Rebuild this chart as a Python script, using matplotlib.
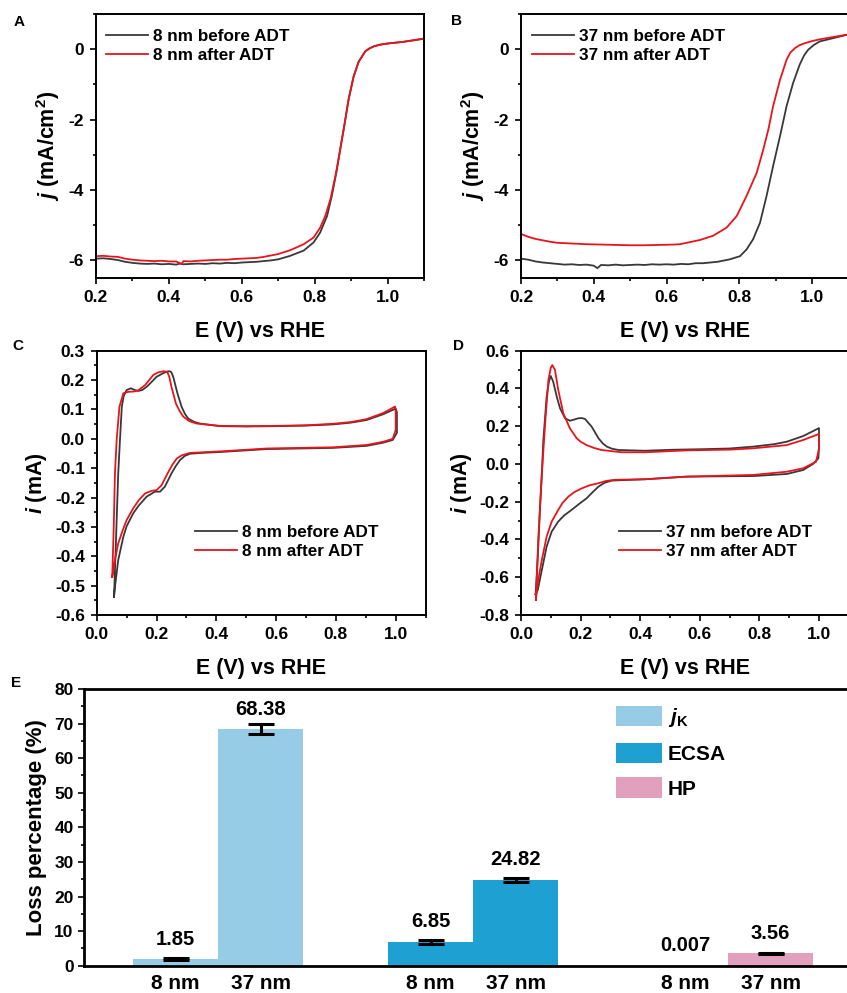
import matplotlib
matplotlib.use("Agg")
import matplotlib.pyplot as plt
from matplotlib.ticker import MultipleLocator
import numpy as np

plt.rcParams['font.family'] = ['Liberation Sans', 'DejaVu Sans']
plt.rcParams['font.weight'] = 'bold'
plt.rcParams['axes.labelweight'] = 'bold'
plt.rcParams['axes.unicode_minus'] = False
plt.rcParams['mathtext.fontset'] = 'custom'
plt.rcParams['mathtext.rm'] = 'Liberation Sans:bold'
plt.rcParams['mathtext.it'] = 'Liberation Sans:bold:italic'
plt.rcParams['mathtext.bf'] = 'Liberation Sans:bold'

BLACK = '#383838'
RED = '#e8141c'

# ---- panel A: LSV, 8 nm ----
lsv8_before_E = [0.20, 0.22, 0.24, 0.26, 0.28, 0.30, 0.32, 0.34, 0.36, 0.38, 0.40, 0.42, 0.43, 0.44,
                 0.46, 0.48, 0.50, 0.52, 0.54, 0.56, 0.58, 0.60, 0.62, 0.64, 0.66, 0.68, 0.70, 0.733,
                 0.77, 0.797, 0.815, 0.834, 0.847, 0.861, 0.87, 0.881, 0.893, 0.907, 0.921, 0.939,
                 0.95, 0.962, 0.98, 0.999, 1.044, 1.10]
lsv8_before_j = [-5.95, -5.94, -5.96, -5.99, -6.04, -6.07, -6.09, -6.10, -6.09, -6.11, -6.10, -6.12,
                 -6.09, -6.11, -6.10, -6.09, -6.10, -6.08, -6.09, -6.07, -6.08, -6.06, -6.05, -6.04,
                 -6.02, -6.00, -5.97, -5.87, -5.72, -5.49, -5.21, -4.74, -4.17, -3.42, -2.85, -2.19,
                 -1.43, -0.77, -0.35, -0.06, 0.02, 0.08, 0.13, 0.16, 0.21, 0.30]
lsv8_after_E = [0.20, 0.22, 0.24, 0.26, 0.28, 0.30, 0.32, 0.34, 0.36, 0.38, 0.40, 0.42, 0.435, 0.44,
                0.46, 0.48, 0.50, 0.52, 0.54, 0.56, 0.58, 0.60, 0.62, 0.64, 0.66, 0.68, 0.70, 0.733,
                0.77, 0.797, 0.815, 0.829, 0.843, 0.857, 0.87, 0.881, 0.893, 0.907, 0.921, 0.939,
                0.95, 0.962, 0.98, 0.999, 1.044, 1.10]
lsv8_after_j = [-5.88, -5.87, -5.89, -5.90, -5.95, -5.98, -6.00, -6.01, -6.02, -6.01, -6.03, -6.03,
                -6.10, -6.02, -6.03, -6.01, -6.00, -5.99, -5.98, -5.98, -5.96, -5.95, -5.94, -5.93,
                -5.90, -5.86, -5.82, -5.71, -5.54, -5.35, -5.07, -4.74, -4.27, -3.60, -2.85, -2.19,
                -1.43, -0.77, -0.35, -0.06, 0.02, 0.08, 0.13, 0.16, 0.21, 0.30]

# ---- panel B: LSV, 37 nm ----
lsv37_before_E = [0.20, 0.22, 0.24, 0.26, 0.28, 0.30, 0.32, 0.34, 0.36, 0.38, 0.40, 0.41, 0.42, 0.44,
                  0.46, 0.48, 0.50, 0.52, 0.54, 0.56, 0.58, 0.60, 0.62, 0.64, 0.66, 0.68, 0.70, 0.72,
                  0.74, 0.774, 0.802, 0.82, 0.838, 0.857, 0.875, 0.893, 0.912, 0.93, 0.948, 0.966,
                  0.978, 0.989, 1.005, 1.021, 1.10]
lsv37_before_j = [-5.95, -5.98, -6.03, -6.06, -6.08, -6.10, -6.12, -6.11, -6.13, -6.12, -6.15, -6.22,
                  -6.13, -6.14, -6.12, -6.14, -6.13, -6.12, -6.13, -6.11, -6.12, -6.11, -6.12, -6.10,
                  -6.11, -6.08, -6.08, -6.06, -6.04, -5.97, -5.88, -5.69, -5.40, -4.93, -4.17, -3.32,
                  -2.47, -1.62, -0.96, -0.44, -0.18, -0.02, 0.12, 0.22, 0.42]
lsv37_after_E = [0.20, 0.22, 0.24, 0.26, 0.28, 0.30, 0.34, 0.38, 0.42, 0.46, 0.50, 0.54, 0.58, 0.62,
                 0.637, 0.692, 0.728, 0.765, 0.793, 0.82, 0.848, 0.866, 0.88, 0.893, 0.912, 0.93,
                 0.94, 0.953, 0.965, 0.98, 1.0, 1.021, 1.10]
lsv37_after_j = [-5.25, -5.33, -5.39, -5.43, -5.47, -5.50, -5.52, -5.54, -5.55, -5.56, -5.57, -5.57,
                 -5.56, -5.55, -5.54, -5.42, -5.30, -5.07, -4.74, -4.17, -3.51, -2.85, -2.28, -1.62,
                 -0.87, -0.30, -0.10, 0.03, 0.11, 0.17, 0.23, 0.28, 0.42]

# ---- panel C: CV, 8 nm ----
cv8_before_E = [0.058, 0.061, 0.066, 0.072, 0.078, 0.084, 0.09, 0.10, 0.114, 0.128, 0.139, 0.152,
                0.167, 0.185, 0.20, 0.22, 0.235, 0.245, 0.25, 0.256, 0.27, 0.284, 0.295, 0.306,
                0.325, 0.345, 0.412, 0.50, 0.60, 0.70, 0.79, 0.85, 0.903, 0.959, 1.0, 1.004, 1.004,
                0.99, 0.959, 0.903, 0.79, 0.569, 0.412, 0.35, 0.312, 0.295, 0.279, 0.265, 0.25,
                0.228, 0.212, 0.195, 0.167, 0.14, 0.122, 0.1, 0.089, 0.072, 0.061, 0.058]
cv8_before_i = [-0.538, -0.45, -0.30, -0.118, 0.0, 0.109, 0.145, 0.166, 0.172, 0.166, 0.163, 0.166,
                0.177, 0.195, 0.211, 0.222, 0.229, 0.230, 0.226, 0.211, 0.155, 0.109, 0.085, 0.069,
                0.058, 0.052, 0.043, 0.042, 0.043, 0.045, 0.049, 0.055, 0.064, 0.084, 0.103, 0.09,
                0.02, -0.004, -0.013, -0.024, -0.031, -0.035, -0.045, -0.048, -0.051, -0.058, -0.072,
                -0.092, -0.118, -0.163, -0.180, -0.180, -0.197, -0.228, -0.254, -0.298, -0.334,
                -0.413, -0.505, -0.538]
cv8_after_E = [0.052, 0.054, 0.057, 0.061, 0.067, 0.076, 0.089, 0.106, 0.125, 0.139, 0.162, 0.189,
               0.205, 0.223, 0.236, 0.243, 0.25, 0.265, 0.277, 0.29, 0.31, 0.334, 0.412, 0.50, 0.60,
               0.70, 0.79, 0.85, 0.903, 0.959, 0.998, 1.0, 1.0, 0.99, 0.959, 0.903, 0.79, 0.569,
               0.412, 0.312, 0.285, 0.268, 0.254, 0.24, 0.217, 0.20, 0.184, 0.162, 0.14, 0.122,
               0.1, 0.089, 0.072, 0.061, 0.054, 0.052]
cv8_after_i = [-0.47, -0.40, -0.30, -0.118, 0.0, 0.109, 0.155, 0.160, 0.161, 0.165, 0.183, 0.217,
               0.226, 0.230, 0.228, 0.210, 0.177, 0.120, 0.095, 0.075, 0.060, 0.052, 0.044, 0.043,
               0.044, 0.046, 0.051, 0.057, 0.067, 0.088, 0.110, 0.09, 0.03, 0.0, -0.010, -0.021,
               -0.029, -0.033, -0.043, -0.048, -0.056, -0.067, -0.087, -0.112, -0.158, -0.175,
               -0.177, -0.186, -0.21, -0.237, -0.277, -0.306, -0.356, -0.413, -0.459, -0.47]

# ---- panel D: CV, 37 nm ----
cv37_before_E = [0.049, 0.056, 0.064, 0.07, 0.075, 0.086, 0.094, 0.10, 0.108, 0.12, 0.131, 0.148,
                 0.164, 0.178, 0.192, 0.205, 0.215, 0.237, 0.26, 0.275, 0.288, 0.305, 0.327, 0.416,
                 0.50, 0.60, 0.70, 0.78, 0.85, 0.892, 0.947, 1.0, 1.0, 0.998, 0.98, 0.947, 0.892,
                 0.78, 0.556, 0.416, 0.304, 0.28, 0.26, 0.24, 0.22, 0.198, 0.17, 0.145, 0.125, 0.103,
                 0.086, 0.07, 0.056, 0.049]
cv37_before_i = [-0.69, -0.50, -0.226, -0.05, 0.127, 0.356, 0.44, 0.466, 0.436, 0.356, 0.295, 0.242,
                 0.229, 0.235, 0.242, 0.243, 0.238, 0.198, 0.136, 0.108, 0.092, 0.081, 0.074, 0.070,
                 0.075, 0.078, 0.082, 0.092, 0.105, 0.118, 0.148, 0.190, 0.10, 0.03, 0.0, -0.032,
                 -0.053, -0.064, -0.067, -0.081, -0.088, -0.100, -0.120, -0.150, -0.182, -0.208,
                 -0.243, -0.272, -0.305, -0.358, -0.438, -0.561, -0.67, -0.69]
cv37_after_E = [0.05, 0.058, 0.07, 0.081, 0.092, 0.10, 0.105, 0.114, 0.125, 0.142, 0.164, 0.187,
                0.20, 0.22, 0.245, 0.27, 0.338, 0.416, 0.556, 0.70, 0.78, 0.892, 0.947, 1.0, 1.0,
                0.99, 0.947, 0.892, 0.78, 0.556, 0.416, 0.315, 0.285, 0.26, 0.23, 0.204, 0.18,
                0.159, 0.14, 0.125, 0.103, 0.086, 0.07, 0.056, 0.05]
cv37_after_i = [-0.72, -0.40, -0.05, 0.215, 0.445, 0.51, 0.524, 0.498, 0.392, 0.268, 0.189, 0.136,
                0.118, 0.100, 0.085, 0.074, 0.062, 0.062, 0.072, 0.076, 0.083, 0.100, 0.127, 0.159,
                0.08, 0.012, -0.023, -0.041, -0.058, -0.067, -0.081, -0.084, -0.090, -0.102, -0.113,
                -0.129, -0.148, -0.173, -0.205, -0.243, -0.305, -0.385, -0.508, -0.632, -0.72]

# ---- panel E: loss percentage ----
metrics = ['$j_\\mathrm{K}$', 'ECSA', 'HP']
metric_colors = ['#97cce6', '#1fa0d2', '#e0a0be']
sizes = ['8 nm', '37 nm']
loss_8 = [1.85, 6.85, 0.007]
loss_37 = [68.38, 24.82, 3.56]
err_8 = [0.3, 0.5, 0.0]
err_37 = [1.4, 0.6, 0.2]
label_8 = ['1.85', '6.85', '0.007']
label_37 = ['68.38', '24.82', '3.56']

W, H = 847, 993
fig = plt.figure(figsize=(W / 100, H / 100), dpi=100)


def px_axes(left, top, right, bottom):
    return fig.add_axes([left / W, 1 - bottom / H, (right - left) / W, (bottom - top) / H])


def style(ax, lw=1.4):
    for s in ax.spines.values():
        s.set_linewidth(lw)
    ax.tick_params(which='both', direction='out', top=False, right=False, width=1.2,
                   labelsize=12.5, pad=4.5)
    ax.tick_params(which='major', length=4)
    ax.tick_params(which='minor', length=2.2)


def lines_panel(ax, xs, ys, labels, legend_anchor):
    for x, y, c, lab in zip(xs, ys, [BLACK, RED], labels):
        ax.plot(x, y, color=c, lw=1.3, label=lab, solid_joinstyle='round')
    ax.legend(loc='upper left', bbox_to_anchor=legend_anchor, frameon=False, fontsize=12.3,
              handlelength=2.45, handletextpad=0.3, labelspacing=0.25, borderpad=0,
              borderaxespad=0)


xlabel = 'E (V) vs RHE'

# A
axA = px_axes(96, 14, 424, 278)
lines_panel(axA, [lsv8_before_E, lsv8_after_E], [lsv8_before_j, lsv8_after_j],
            ['8 nm before ADT', '8 nm after ADT'], (0.03, 0.945))
axA.set_xlim(0.2, 1.1)
axA.set_ylim(-6.5, 1)
axA.xaxis.set_major_locator(MultipleLocator(0.2))
axA.xaxis.set_minor_locator(MultipleLocator(0.1))
axA.yaxis.set_major_locator(MultipleLocator(2))
axA.yaxis.set_minor_locator(MultipleLocator(1))
axA.set_xlabel(xlabel, fontsize=15.5, labelpad=12)
axA.set_ylabel('$j$ (mA/cm$^2$)', fontsize=15.5, labelpad=5)
style(axA)

# B
axB = px_axes(521, 14, 848.4, 278)
lines_panel(axB, [lsv37_before_E, lsv37_after_E], [lsv37_before_j, lsv37_after_j],
            ['37 nm before ADT', '37 nm after ADT'], (0.035, 0.945))
axB.set_xlim(0.2, 1.1)
axB.set_ylim(-6.5, 1)
axB.xaxis.set_major_locator(MultipleLocator(0.2))
axB.xaxis.set_minor_locator(MultipleLocator(0.1))
axB.yaxis.set_major_locator(MultipleLocator(2))
axB.yaxis.set_minor_locator(MultipleLocator(1))
axB.set_xlabel(xlabel, fontsize=15.5, labelpad=12)
axB.set_ylabel('$j$ (mA/cm$^2$)', fontsize=15.5, labelpad=5)
style(axB)

# C
axC = px_axes(96.7, 350.7, 425.6, 615)
lines_panel(axC, [cv8_before_E, cv8_after_E], [cv8_before_i, cv8_after_i],
            ['8 nm before ADT', '8 nm after ADT'], (0.3, 0.34))
axC.set_xlim(0, 1.1)
axC.set_ylim(-0.6, 0.3)
axC.xaxis.set_major_locator(MultipleLocator(0.2))
axC.xaxis.set_minor_locator(MultipleLocator(0.1))
axC.yaxis.set_major_locator(MultipleLocator(0.1))
axC.yaxis.set_minor_locator(MultipleLocator(0.05))
axC.set_xlabel(xlabel, fontsize=15.5, labelpad=12)
axC.set_ylabel('$i$ (mA)', fontsize=15.5, labelpad=4)
style(axC)

# D
axD = px_axes(521, 350.7, 848.8, 615)
lines_panel(axD, [cv37_before_E, cv37_after_E], [cv37_before_i, cv37_after_i],
            ['37 nm before ADT', '37 nm after ADT'], (0.3, 0.34))
axD.set_xlim(0, 1.1)
axD.set_ylim(-0.8, 0.6)
axD.xaxis.set_major_locator(MultipleLocator(0.2))
axD.xaxis.set_minor_locator(MultipleLocator(0.1))
axD.yaxis.set_major_locator(MultipleLocator(0.2))
axD.yaxis.set_minor_locator(MultipleLocator(0.1))
axD.set_xlabel(xlabel, fontsize=15.5, labelpad=12)
axD.set_ylabel('$i$ (mA)', fontsize=15.5, labelpad=4)
style(axD)

# E
axE = px_axes(84, 689, 848, 965.7)
group = np.arange(len(metrics))
bw = 1 / 3
for g, c, lab in zip(group, metric_colors, metrics):
    axE.bar(g - bw / 2, loss_8[g], width=bw, color=c, label=lab)
    axE.bar(g + bw / 2, loss_37[g], width=bw, color=c)
for g in group:
    for off, val, err, txt in [(-bw / 2, loss_8[g], err_8[g], label_8[g]),
                               (bw / 2, loss_37[g], err_37[g], label_37[g])]:
        if err > 0:
            axE.errorbar(g + off, val, yerr=err, fmt='none', ecolor='black', elinewidth=2.2,
                         capsize=9.4, capthick=2.2)
        axE.annotate(txt, (g + off, val), xytext=(0, 14.5), textcoords='offset points',
                     ha='center', va='center', fontsize=14.5)
axE.set_xlim(-0.5255, 2.47)
axE.set_ylim(0, 80)
axE.yaxis.set_major_locator(MultipleLocator(10))
axE.yaxis.set_minor_locator(MultipleLocator(5))
axE.set_xticks(np.concatenate([group - bw / 2, group + bw / 2]))
axE.set_xticklabels([sizes[0]] * 3 + [sizes[1]] * 3)
axE.set_ylabel('Loss percentage (%)', fontsize=16, labelpad=5)
style(axE, lw=2)
axE.tick_params(axis='x', length=0, labelsize=15, pad=6)
axE.tick_params(axis='y', labelsize=12.5, pad=3.5)
axE.legend(loc='upper left', bbox_to_anchor=(0.696, 0.94), frameon=False, fontsize=15,
           handlelength=2.2, handleheight=1.15, handletextpad=0.3, labelspacing=0.65,
           borderpad=0, borderaxespad=0)

for letter, (x, y) in zip('ABCDE', [(19, 22), (457, 21), (18, 346), (458, 346), (16, 683)]):
    fig.text(x / W, 1 - y / H, letter, fontsize=11, fontweight='bold', ha='center',
             va='center')

fig.savefig('out.png', dpi=100)
